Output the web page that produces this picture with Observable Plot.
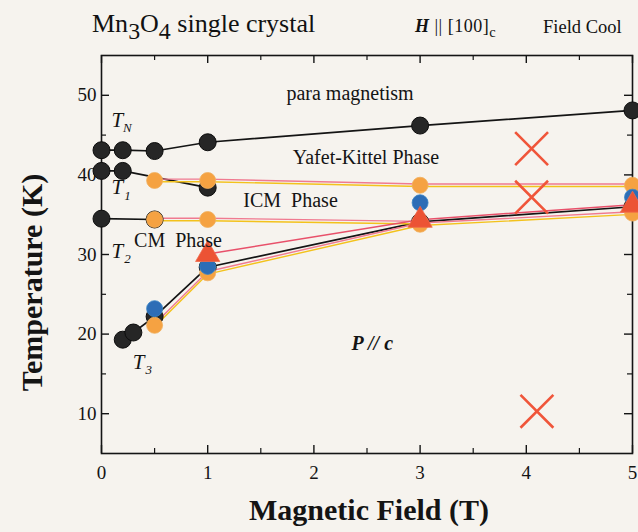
<!DOCTYPE html>
<html><head><meta charset="utf-8">
<script src="https://cdn.jsdelivr.net/npm/d3@7"></script>
<script src="https://cdn.jsdelivr.net/npm/@observablehq/plot@0.6"></script>
<style>
body{margin:0;background:#f6f3ee;width:638px;height:532px;overflow:hidden;font-family:"Liberation Serif",serif;color:#111;}
#title{position:relative;height:48px;}
#title span.t{position:absolute;white-space:nowrap;}
.sub{position:relative;top:0.28em;font-size:0.92em;}
.sub2{position:relative;top:0.35em;font-size:0.8em;}
</style></head><body>
<div id="title">
  <span class="t" style="left:92px;top:9px;font-size:26px;">Mn<span class="sub">3</span>O<span class="sub">4</span> single crystal</span>
  <span class="t" style="left:415px;top:16px;font-size:18px;letter-spacing:0.5px;"><b><i>H</i></b>&nbsp;||&nbsp;[100]<span class="sub2">c</span></span>
  <span class="t" style="left:543px;top:17px;font-size:18.5px;">Field Cool</span>
</div>
<div id="chart"></div>
<script>
// ---- data ----
const tnField = [0, 0.2, 0.5, 1, 3, 5];
const tnTemp = [43.1, 43.1, 43.0, 44.1, 46.2, 48.1];
const t1BlackField = [0, 0.2, 1];
const t1BlackTemp = [40.5, 40.5, 38.4];
const t2BlackField = [0, 0.5];
const t2BlackTemp = [34.5, 34.4];
const t3BlackField = [0.2, 0.3, 0.5, 1, 3, 5];
const t3BlackTemp = [19.3, 20.2, 22.2, 28.4, 34.1, 36.0];
const icmOrangeField = [0.5, 1, 3, 5];
const icmOrangeTemp = [39.3, 39.3, 38.7, 38.7];
const cmOrangeField = [0.5, 1, 3];
const cmOrangeTemp = [34.4, 34.4, 34.0];
const lowOrangeField = [0.5, 1, 3, 5];
const lowOrangeTemp = [21.1, 27.7, 33.8, 35.2];
const blueField = [0.5, 1, 3, 5];
const blueTemp = [23.2, 28.5, 36.5, 37.2];
const redField = [1, 3, 5];
const redTemp = [30.0, 34.3, 36.2];
const crossField = [4.05, 4.05, 4.1];
const crossTemp = [43.3, 37.2, 10.3];

const xMajor = [0, 1, 2, 3, 4, 5];
const xMinor = [0.5, 1.5, 2.5, 3.5, 4.5];
const yMajor = [10, 20, 30, 40, 50];
const yMinor = [15, 25, 35, 45];

const annoText = ["para magnetism", "Yafet-Kittel Phase", "ICM  Phase", "CM  Phase"];
const annoField = [2.34, 2.49, 1.78, 0.72];
const annoTemp = [50.2, 42.2, 36.8, 31.8];

const tLabelSub = ["N", "1", "2", "3"];
const tLabelField = [0.15, 0.15, 0.15, 0.35];
const tLabelTemp = [46.9, 38.4, 30.4, 16.5];

// ---- build tables ----
function rows(fields, temps, branch) {
  return fields.map((f, i) => ({field: f, temp: temps[i], branch}));
}
const black = [
  ...rows(tnField, tnTemp, "TN"),
  ...rows(t1BlackField, t1BlackTemp, "T1"),
  ...rows(t2BlackField, t2BlackTemp, "T2"),
  ...rows(t3BlackField, t3BlackTemp, "T3")
];
const orange = [
  ...rows(icmOrangeField, icmOrangeTemp, "ICM"),
  ...rows(cmOrangeField, cmOrangeTemp, "CM"),
  ...rows(lowOrangeField, lowOrangeTemp, "LOW")
];
const blue = rows(blueField, blueTemp, "B");
const red = rows(redField, redTemp, "R");
const crosses = rows(crossField, crossTemp, "X");
const annos = annoText.map((t, i) => ({text: t, field: annoField[i], temp: annoTemp[i]}));
const tLabels = tLabelSub.map((s, i) => ({sub: s, field: tLabelField[i], temp: tLabelTemp[i]}));

const W = 638, H = 484, mT = 7, mB = 79, mL = 101, mR = 6;
const ph = H - mT - mB, pw = W - mL - mR;
const ink = "#141414";

const chart = Plot.plot({
  width: W, height: H,
  marginTop: mT, marginBottom: mB, marginLeft: mL, marginRight: mR,
  x: {domain: [0, 5], axis: null},
  y: {domain: [5, 55], axis: null},
  style: {fontFamily: "Liberation Serif, serif", background: "transparent", color: ink, overflow: "visible"},
  marks: [
    // ticks inside the frame
    Plot.tickX(xMajor, {x: d => d, insetTop: ph - 8, stroke: ink, strokeWidth: 1.4}),
    Plot.tickX(xMajor, {x: d => d, insetBottom: ph - 8, stroke: ink, strokeWidth: 1.4}),
    Plot.tickX(xMinor, {x: d => d, insetTop: ph - 5, stroke: ink, strokeWidth: 1.2}),
    Plot.tickX(xMinor, {x: d => d, insetBottom: ph - 5, stroke: ink, strokeWidth: 1.2}),
    Plot.tickY(yMajor, {y: d => d, insetRight: pw - 8, stroke: ink, strokeWidth: 1.4}),
    Plot.tickY(yMajor, {y: d => d, insetLeft: pw - 8, stroke: ink, strokeWidth: 1.4}),
    Plot.tickY(yMinor, {y: d => d, insetRight: pw - 5, stroke: ink, strokeWidth: 1.2}),
    Plot.tickY(yMinor, {y: d => d, insetLeft: pw - 5, stroke: ink, strokeWidth: 1.2}),
    Plot.frame({stroke: ink, strokeWidth: 1.6}),
    Plot.axisX({ticks: xMajor, tickSize: 0, tickPadding: 12, fontSize: 19, tickFormat: d3.format("d"), label: null, fill: ink}),
    Plot.axisY({ticks: yMajor, tickSize: 0, tickPadding: 5, fontSize: 19, tickFormat: d3.format("d"), label: null, fill: ink}),
    // axis titles
    Plot.text(["Magnetic Field (T)"], {frameAnchor: "bottom", dy: 66, text: d => d, fontSize: 30, fontWeight: "bold", fill: ink, dx: 2}),
    Plot.text(["Temperature (K)"], {frameAnchor: "left", textAnchor: "middle", dx: -69, dy: 28, rotate: -90, text: d => d, fontSize: 30, fontWeight: "bold", fill: ink}),
    // lines
    Plot.line(black, {x: "field", y: "temp", z: "branch", stroke: ink, strokeWidth: 1.7}),
    Plot.line(orange, {x: "field", y: "temp", z: "branch", stroke: "#f07a90", strokeWidth: 1.4, dy: -1.3}),
    Plot.line(orange, {x: "field", y: "temp", z: "branch", stroke: "#f3c21c", strokeWidth: 1.4, dy: 1.3}),
    Plot.line(red, {x: "field", y: "temp", stroke: "#e8506a", strokeWidth: 1.5, dy: -0.5}),
    // points
    Plot.dot(black, {x: "field", y: "temp", r: 8.5, fill: "#262626", stroke: "#0c0c0c", strokeWidth: 1}),
    Plot.dot(orange, {x: "field", y: "temp", r: 8, fill: "#f5a242", stroke: "#f0b060", strokeWidth: 0.8}),
    Plot.dot(blue, {x: "field", y: "temp", r: 8, fill: "#2d6db6", stroke: "#3b86c6", strokeWidth: 0.8}),
    Plot.dot(red, {x: "field", y: "temp", symbol: "triangle", r: 9, fill: "#ec5334", stroke: "#f06a4a", strokeWidth: 0.8}),
    Plot.dot(crosses, {x: "field", y: "temp", symbol: "times", r: 15, stroke: "#f0553a", strokeWidth: 2.6}),
    // annotations
    Plot.text(annos, {x: "field", y: "temp", text: "text", fontSize: 20, fill: ink}),
    Plot.text(["P // c"], {x: () => 2.55, y: () => 18.8, text: d => d, fontSize: 20, fontWeight: "bold", fontStyle: "italic", fill: ink}),
    Plot.text(tLabels, {x: "field", y: "temp", text: () => "T", fontSize: 21, fontStyle: "italic", fill: ink}),
    Plot.text(tLabels, {x: "field", y: "temp", text: "sub", fontSize: 13, fontStyle: "italic", fill: ink, dx: 10, dy: 8})
  ]
});
document.getElementById("chart").append(chart);
</script>
</body></html>
